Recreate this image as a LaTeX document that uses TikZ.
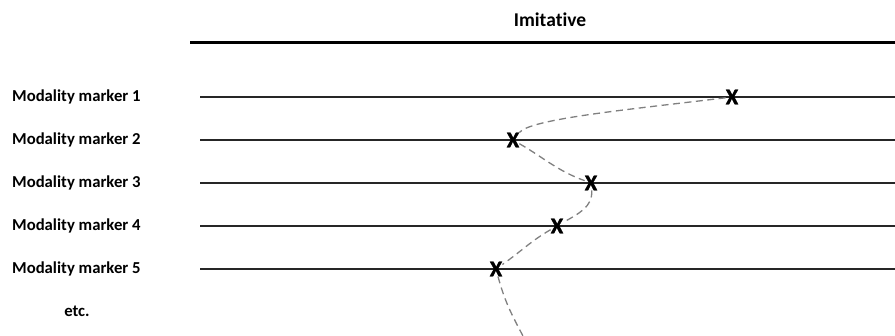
\documentclass[tikz,border=0pt]{standalone}
\usepackage{fontspec}
\setmainfont{Carlito}[Ligatures=NoCommon]
\newfontfamily\crossfont{Carlito}[FakeBold=1.5]
\tikzset{
    marker/.style={anchor=west, inner sep=0pt, font=\bfseries\fontsize{16.7}{20}\selectfont},
    cross/.style={inner sep=0pt, font=\crossfont\bfseries\fontsize{22.5}{26}\selectfont},
    rule/.style={line width=1.4pt, black!85},
    trace/.style={gray, line width=1.3pt, dash pattern=on 7pt off 4.5pt},
}
\begin{document}
\begin{tikzpicture}[x=1pt,y=1pt]
                \useasboundingbox (0,0) rectangle (895,336);
                \node (title) at (550,316) {\bfseries\fontsize{19.5}{23}\selectfont Imitative};
                \coordinate (top0) at (190,293); \coordinate (top1) at (895,293);
                \draw[line width=3pt] (top0) -- (top1);

                \node[marker] (m1) at (12,239) {Modality marker 1}; \coordinate (l1) at (200,239); \coordinate (r1) at (895,239);
                \node[marker] (m2) at (12,196) {Modality marker 2}; \coordinate (l2) at (200,196); \coordinate (r2) at (895,196);
                \node[marker] (m3) at (12,153) {Modality marker 3}; \coordinate (l3) at (200,153); \coordinate (r3) at (895,153);
                \node[marker] (m4) at (12,110) {Modality marker 4}; \coordinate (l4) at (200,110); \coordinate (r4) at (895,110);
                \node[marker] (m5) at (12,67) {Modality marker 5}; \coordinate (l5) at (200,67); \coordinate (r5) at (895,67);
                \node[inner sep=0pt, font=\bfseries\fontsize{16.7}{20}\selectfont] (etc) at (77,25) {etc.};

                \draw[rule] (l1) -- (r1); \draw[rule] (l2) -- (r2); \draw[rule] (l3) -- (r3);
                \draw[rule] (l4) -- (r4); \draw[rule] (l5) -- (r5);

                \node[cross] (x1) at (732,239) {X}; \node[cross] (x2) at (513,196) {X}; \node[cross] (x3) at (591,153) {X};
                \node[cross] (x4) at (557,110) {X}; \node[cross] (x5) at (496,67) {X}; \coordinate (tail) at (523,0);

                \draw[trace] (x1) .. controls +(187:100) and +(50:28) .. (x2); \draw[trace] (x2) to[out=-30, in=160] (x3);
                \draw[trace] (x3) to[out=-85, in=30] (x4); \draw[trace] (x4) to[out=210, in=35] (x5);
                \draw[trace] (x5) to[out=-75, in=118] (tail);
            \end{tikzpicture}
\end{document}
